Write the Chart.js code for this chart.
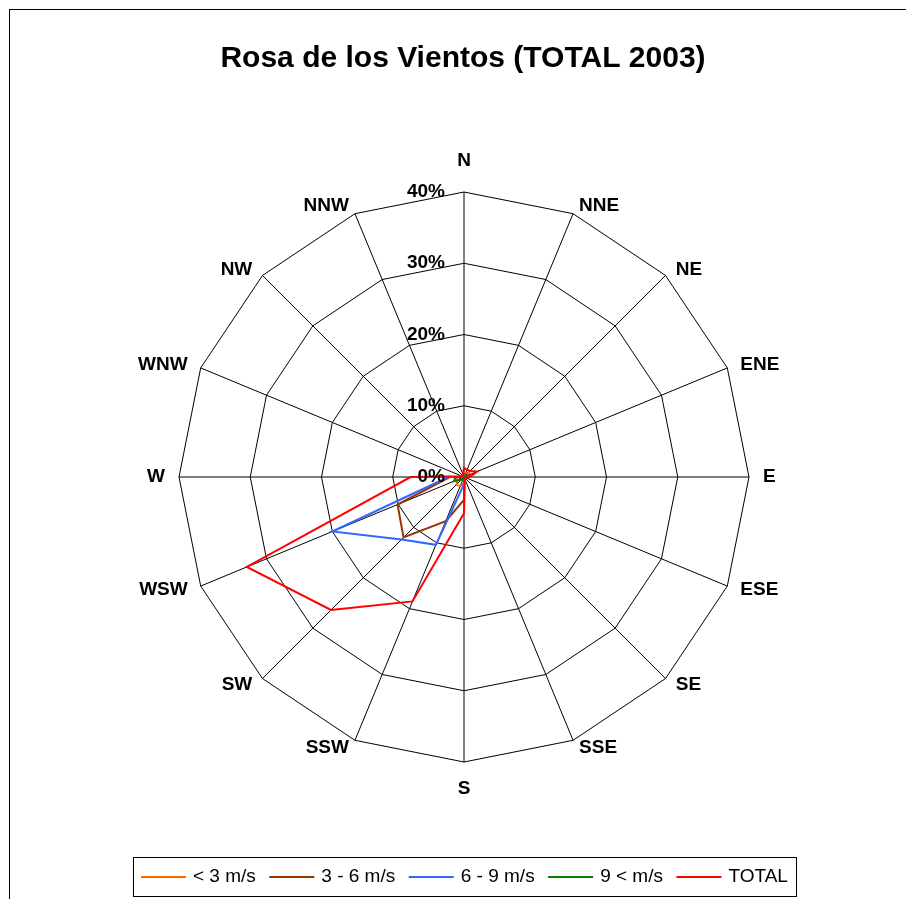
<!DOCTYPE html>
<html><head><meta charset="utf-8">
<script src="https://cdn.jsdelivr.net/npm/chart.js@4/dist/chart.umd.min.js"></script>
<style>html,body{margin:0;padding:0;background:#fff}</style>
</head><body>
<canvas id="c" width="906" height="899"></canvas>
<script>
const directions = ['N','NNE','NE','ENE','E','ESE','SE','SSE','S','SSW','SW','WSW','W','WNW','NW','NNW'];
const tickValues = [0, 10, 20, 30, 40];
const tickLabels = ['0%', '10%', '20%', '30%', '40%'];
const seriesNames = ['< 3 m/s', '3 - 6 m/s', '6 - 9 m/s', '9 < m/s', 'TOTAL'];
const seriesColors = ['#FF6600', '#993300', '#3366FF', '#008000', '#FF0000'];
const lt3   = [0.6,0.6,0.9,1.0,0.5,0.2,0.1,0.2,0.9,1.4,1.5,1.0,1.2,0.2,0.1,0.3];
const s3to6 = [0.4,0.4,0.3,0.7,0.3,0.1,0.1,0.1,3.2,6.7,12.0,10.1,2.0,0.1,0.1,0.1];
const s6to9 = [0.2,0.1,0.0,0.2,0.0,0.0,0.0,0.0,1.0,10.3,12.4,20.0,2.2,0.0,0.0,0.1];
const gt9   = [0,0,0,0,0,0,0,0,0,0.4,0.5,1.5,1.2,0,0,0];
const total = [1.3,1.1,1.2,2.0,0.8,0.3,0.2,0.3,5.1,18.9,26.4,33.0,7.5,0.3,0.2,0.4];
const titleText = 'Rosa de los Vientos (TOTAL 2003)';

const seriesValues = [lt3, s3to6, s6to9, gt9, total];
const drawOrder = [4, 3, 2, 1, 0];
const FONT = 'Arial, "Liberation Sans", sans-serif';

const datasets = seriesValues.map((vals, i) => ({
  label: seriesNames[i],
  data: vals,
  borderColor: seriesColors[i],
  backgroundColor: seriesColors[i],
  borderWidth: 2,
  fill: false,
  pointRadius: 0,
  pointHoverRadius: 0,
  tension: 0,
  order: drawOrder[i]
}));

const decor = {
  id: 'decor',
  beforeDraw(chart) {
    const ctx = chart.ctx;
    ctx.save();
    ctx.fillStyle = '#fff';
    ctx.fillRect(0, 0, chart.width, chart.height);
    ctx.restore();
  },
  afterDraw(chart) {
    const ctx = chart.ctx;
    const sc = chart.scales.r;
    ctx.save();
    // frame
    ctx.strokeStyle = '#000';
    ctx.lineWidth = 1;
    ctx.strokeRect(9.5, 9.5, 1000, 1000);
    // title
    ctx.fillStyle = '#000';
    ctx.font = 'bold 30px ' + FONT;
    ctx.textAlign = 'center';
    ctx.textBaseline = 'middle';
    ctx.fillText(titleText, 463, 59);
    // point labels
    ctx.font = 'bold 19px ' + FONT;
    directions.forEach((lab, i) => {
      const p = sc.getPointPosition(i, sc.drawingArea + 13);
      const deg = i * 360 / directions.length;
      let x = p.x, y = p.y;
      if (deg === 0) { ctx.textAlign = 'center'; y -= 18; }
      else if (deg === 180) { ctx.textAlign = 'center'; y += 14; }
      else {
        ctx.textAlign = deg < 180 ? 'left' : 'right';
        x += deg < 180 ? 1 : -1;
        y += 4.5 * Math.cos(deg * Math.PI / 180);
      }
      ctx.textBaseline = 'middle';
      ctx.fillText(lab, x, y);
    });
    // tick labels
    ctx.font = 'bold 19px ' + FONT;
    ctx.textAlign = 'right';
    ctx.textBaseline = 'middle';
    tickValues.forEach((v, i) => {
      const d = sc.getDistanceFromCenterForValue(v);
      ctx.fillText(tickLabels[i], sc.xCenter - 19, sc.yCenter - d);
    });
    // legend
    ctx.font = '19px ' + FONT;
    const lineLen = 45, gapText = 7, gapItem = 13.5, padX = 8;
    const widths = seriesNames.map(n => ctx.measureText(n).width);
    let totalW = 0;
    widths.forEach((w, i) => { totalW += lineLen + gapText + w + (i < widths.length - 1 ? gapItem : 0); });
    const boxW = totalW + padX * 2;
    const boxLeft = Math.round(464.5 - boxW / 2);
    const boxTop = 857, boxH = 39;
    ctx.strokeStyle = '#000';
    ctx.lineWidth = 1;
    ctx.strokeRect(boxLeft + 0.5, boxTop + 0.5, Math.round(boxW), boxH);
    let x = boxLeft + padX;
    const cy = boxTop + boxH / 2 + 0.5;
    seriesNames.forEach((n, i) => {
      ctx.strokeStyle = seriesColors[i];
      ctx.lineWidth = 2;
      ctx.beginPath();
      ctx.moveTo(x, cy);
      ctx.lineTo(x + lineLen, cy);
      ctx.stroke();
      x += lineLen + gapText;
      ctx.fillStyle = '#000';
      ctx.textAlign = 'left';
      ctx.textBaseline = 'middle';
      ctx.fillText(n, x, cy);
      x += widths[i] + gapItem;
    });
    ctx.restore();
  }
};

new Chart(document.getElementById('c'), {
  type: 'radar',
  data: { labels: directions, datasets: datasets },
  options: {
    responsive: false,
    animation: false,
    devicePixelRatio: 1,
    layout: { padding: { left: 179, top: 192, right: 157, bottom: 137 } },
    plugins: { legend: { display: false }, title: { display: false }, tooltip: { enabled: false } },
    scales: {
      r: {
        min: 0, max: 40, beginAtZero: true,
        ticks: { display: false, stepSize: 10 },
        grid: { color: '#000', lineWidth: 1, circular: false },
        angleLines: { color: '#000', lineWidth: 1 },
        pointLabels: { display: false }
      }
    }
  },
  plugins: [decor]
});
</script>
</body></html>
